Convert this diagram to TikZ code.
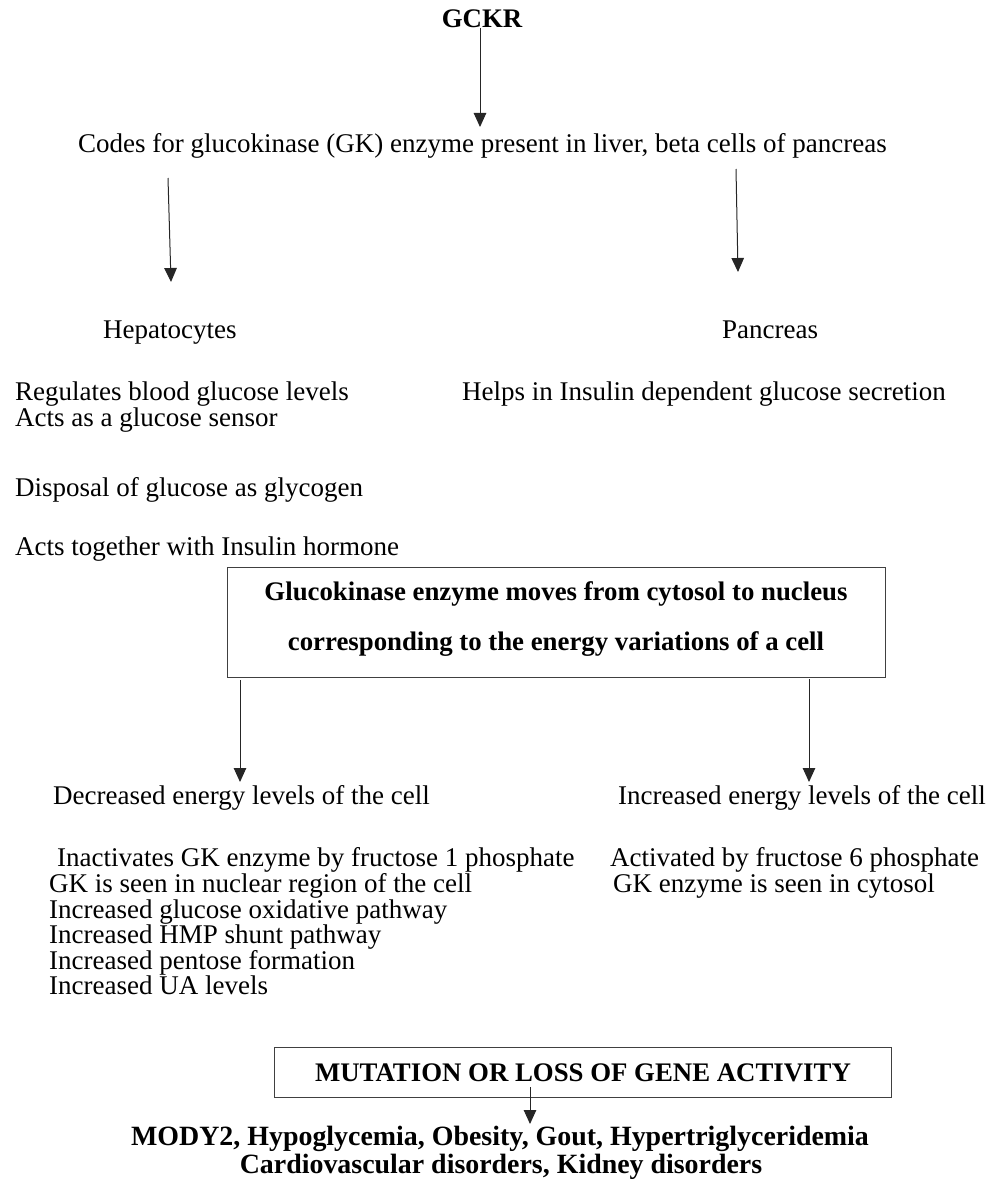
\documentclass[tikz,border=0pt]{standalone}
\usepackage{fontspec}
\setmainfont{Liberation Serif}
\usetikzlibrary{arrows.meta}
\begin{document}
\begin{tikzpicture}[x=1pt,y=-1pt,
  txt/.style={inner sep=0pt, font=\fontsize{27}{30}\selectfont},
  btxt/.style={inner sep=0pt, font=\fontsize{26.8}{30}\selectfont\bfseries},
  bigbtxt/.style={inner sep=0pt, font=\fontsize{27.9}{30}\selectfont\bfseries},
  arr/.style={-{Triangle[length=14pt,width=12.5pt]}, line width=1pt, draw=black!85},
  frame/.style={draw=black!75, line width=1.2pt, inner sep=0pt}]
\useasboundingbox (0,0) rectangle (1001,1180);

% gene and its product
\node[btxt, anchor=base] (gckr) at (482,28) {GCKR};
\node[txt, anchor=base west] (codes) at (78,153) {Codes for glucokinase (GK) enzyme present in liver, beta cells of pancreas};

% tissues
\node[txt, anchor=base west] (hep) at (103,338) {Hepatocytes};
\node[txt, anchor=base west] (pan) at (722,338) {Pancreas};

\node[txt, anchor=base west] (h1) at (15,400) {Regulates blood glucose levels};
\node[txt, anchor=base west] (h2) at (15,426) {Acts as a glucose sensor};
\node[txt, anchor=base west] (h3) at (15,496) {Disposal of glucose as glycogen};
\node[txt, anchor=base west] (h4) at (15,555) {Acts together with Insulin hormone};
\node[txt, anchor=base west] (p1) at (462,400) {Helps in Insulin dependent glucose secretion};

% translocation box
\node[frame, anchor=north west, minimum width=658pt, minimum height=110pt] (gkbox) at (227,567) {};
\node[btxt, anchor=base] (b1) at (556,600) {Glucokinase enzyme moves from cytosol to nucleus};
\node[btxt, anchor=base] (b2) at (556,650) {corresponding to the energy variations of a cell};

% energy states
\node[txt, anchor=base west] (dec) at (53,804) {Decreased energy levels of the cell};
\node[txt, anchor=base west] (inc) at (618,804) {Increased energy levels of the cell};

\node[txt, anchor=base west] (d1) at (57,866) {Inactivates GK enzyme by fructose 1 phosphate};
\node[txt, anchor=base west] (d2) at (49,892) {GK is seen in nuclear region of the cell};
\node[txt, anchor=base west] (d3) at (49,918) {Increased glucose oxidative pathway};
\node[txt, anchor=base west] (d4) at (49,943) {Increased HMP shunt pathway};
\node[txt, anchor=base west] (d5) at (49,969) {Increased pentose formation};
\node[txt, anchor=base west] (d6) at (49,994) {Increased UA levels};

\node[txt, anchor=base west] (i1) at (610,866) {Activated by fructose 6 phosphate};
\node[txt, anchor=base west] (i2) at (613,892) {GK enzyme is seen in cytosol};

% consequences
\node[frame, anchor=north west, minimum width=617pt, minimum height=50pt] (mutbox) at (274,1047) {};
\node[btxt, anchor=base] (mut) at (583,1081) {MUTATION OR LOSS OF GENE ACTIVITY};
\node[bigbtxt, anchor=base] (dis1) at (500,1145) {MODY2, Hypoglycemia, Obesity, Gout, Hypertriglyceridemia};
\node[bigbtxt, anchor=base] (dis2) at (501,1173) {Cardiovascular disorders, Kidney disorders};

% arrow end points
\coordinate (g0) at (480,28);   \coordinate (g1) at (480,127);
\coordinate (l0) at (168,178);  \coordinate (l1) at (171,282);
\coordinate (r0) at (736,169);  \coordinate (r1) at (738,272);
\coordinate (bl0) at (240,680); \coordinate (bl1) at (240,782);
\coordinate (br0) at (809,679); \coordinate (br1) at (809,782);
\coordinate (m0) at (530,1087); \coordinate (m1) at (530,1124);

\draw[arr] (g0) -- (g1);
\draw[arr] (l0) -- (l1);
\draw[arr] (r0) -- (r1);
\draw[arr] (bl0) -- (bl1);
\draw[arr] (br0) -- (br1);
\draw[arr] (m0) -- (m1);
\end{tikzpicture}
\end{document}
